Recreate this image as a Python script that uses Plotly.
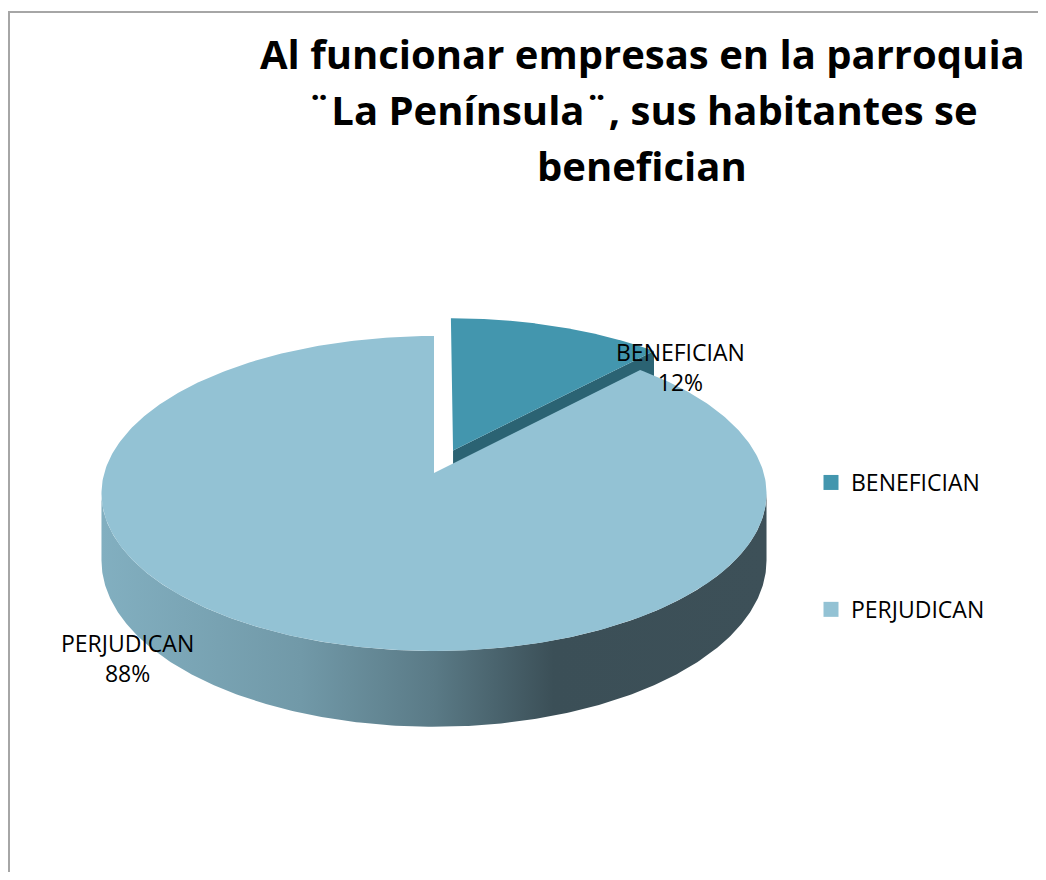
import numpy as np
import plotly.graph_objects as go

# ---- data ----
categories = ["BENEFICIAN", "PERJUDICAN"]
values = [12, 88]
slice_colors = ["#4396ae", "#93c2d4"]
cut_color = "#2b6373"
explode = [0.16, 0.0]
title_lines = [
    "Al funcionar empresas en la parroquia",
    "¨La Península¨, sus habitantes se",
    "benefician",
]

# ---- geometry of the perspective pie (pixel space) ----
W, H = 1046, 880
PAD = 8                # page body margin
CX, CY = 434, 473      # projected centre of the top face
A, B = 329.7, 154.8    # horizontal / vertical radii factors
K = 0.13               # perspective factor
D = 66                 # depth of the pie

def proj(u, v, z=0.0):
    w = 1 + K * v
    return CX + A * u / w, CY + (-B * v + D * z) / w

total = float(sum(values))
fracs = [v / total for v in values]
starts = np.concatenate([[0], np.cumsum(fracs)[:-1]]) * 2 * np.pi
ends = np.cumsum(fracs) * 2 * np.pi

fig = go.Figure()

def poly(xs, ys, color, **kw):
    fig.add_trace(go.Scatter(x=list(xs), y=list(ys), mode="lines", fill="toself",
                             fillcolor=color, line=dict(width=0, color=color),
                             hoverinfo="skip", showlegend=False, **kw))

# visible outer-wall angular range
vis0 = np.arccos(-K)
vis1 = 2 * np.pi - vis0

for i in [0, 1]:
    a0, a1 = starts[i], ends[i]
    mid = (a0 + a1) / 2
    eu, ev = explode[i] * np.sin(mid), explode[i] * np.cos(mid)
    # cut face at end angle (visible for the back slice)
    if i == 0:
        tu, tv = eu + np.sin(a1), ev + np.cos(a1)
        p1 = proj(eu, ev, 0); p2 = proj(tu, tv, 0)
        p3 = proj(tu, tv, 1); p4 = proj(eu, ev, 1)
        poly([p1[0], p2[0], p3[0], p4[0], p1[0]], [p1[1], p2[1], p3[1], p4[1], p1[1]], cut_color)
    # outer wall
    s0, s1 = max(a0, vis0), min(a1, vis1)
    if s1 > s0:
        th = np.linspace(s0, s1, 300)
        tx, ty = proj(eu + np.sin(th), ev + np.cos(th), 0)
        bx, by = proj(eu + np.sin(th[::-1]), ev + np.cos(th[::-1]), 1)
        xs = np.concatenate([tx, bx, tx[:1]])
        ys = np.concatenate([ty, by, ty[:1]])
        fig.add_trace(go.Scatter(
            x=xs, y=ys, mode="lines", fill="toself", line=dict(width=0),
            fillgradient=dict(type="horizontal", colorscale=[
                [0.0, "#82afc0"], [0.3, "#7199a8"], [0.5, "#5a7a86"],
                [0.68, "#3b4f57"], [1.0, "#3d5058"]]),
            hoverinfo="skip", showlegend=False))
    # top face
    th = np.linspace(a0, a1, 400)
    ax, ay = proj(eu, ev, 0)
    tx, ty = proj(eu + np.sin(th), ev + np.cos(th), 0)
    poly(np.concatenate([[ax], tx, [ax]]), np.concatenate([[ay], ty, [ay]]), slice_colors[i])

# legend entries
for cat, col in zip(categories, slice_colors):
    fig.add_trace(go.Scatter(x=[None], y=[None], mode="markers", name=cat, legendgroup=cat,
                             marker=dict(symbol="square", size=15, color=col)))

# data labels
label_pos = [(680, 367), (127, 658)]
for cat, v, (lx, ly) in zip(categories, values, label_pos):
    fig.add_annotation(x=lx, y=ly, text=f"{cat}<br>{round(100 * v / total)}%", showarrow=False,
                       font=dict(family="Open Sans", size=23, color="#000000"), align="center")

# title
for j, line in enumerate(title_lines):
    fig.add_annotation(x=642, y=53 + 56 * j, text=f"<b>{line}</b>", showarrow=False,
                       font=dict(family="Open Sans", size=40, color="#000000"))

# chart border
fig.add_shape(type="rect", x0=PAD + 1, y0=12, x1=W + 20, y1=H + 20,
              line=dict(color="#a6a6a6", width=2), layer="below")

PW, PH = W - 2 * PAD, H - 2 * PAD
fig.update_layout(
    width=PW, height=PH, margin=dict(l=0, r=0, t=0, b=0),
    paper_bgcolor="white", plot_bgcolor="white",
    xaxis=dict(range=[PAD, PAD + PW], visible=False, fixedrange=True),
    yaxis=dict(range=[PAD + PH, PAD], visible=False, fixedrange=True),
    showlegend=True,
    legend=dict(x=(811 - PAD) / PW, y=1 - (461 - PAD) / PH, xanchor="left", yanchor="top",
                font=dict(family="Open Sans", size=23, color="#000000"),
                tracegroupgap=94, itemwidth=30, bgcolor="rgba(0,0,0,0)"),
)

fig.write_html("out.html")
